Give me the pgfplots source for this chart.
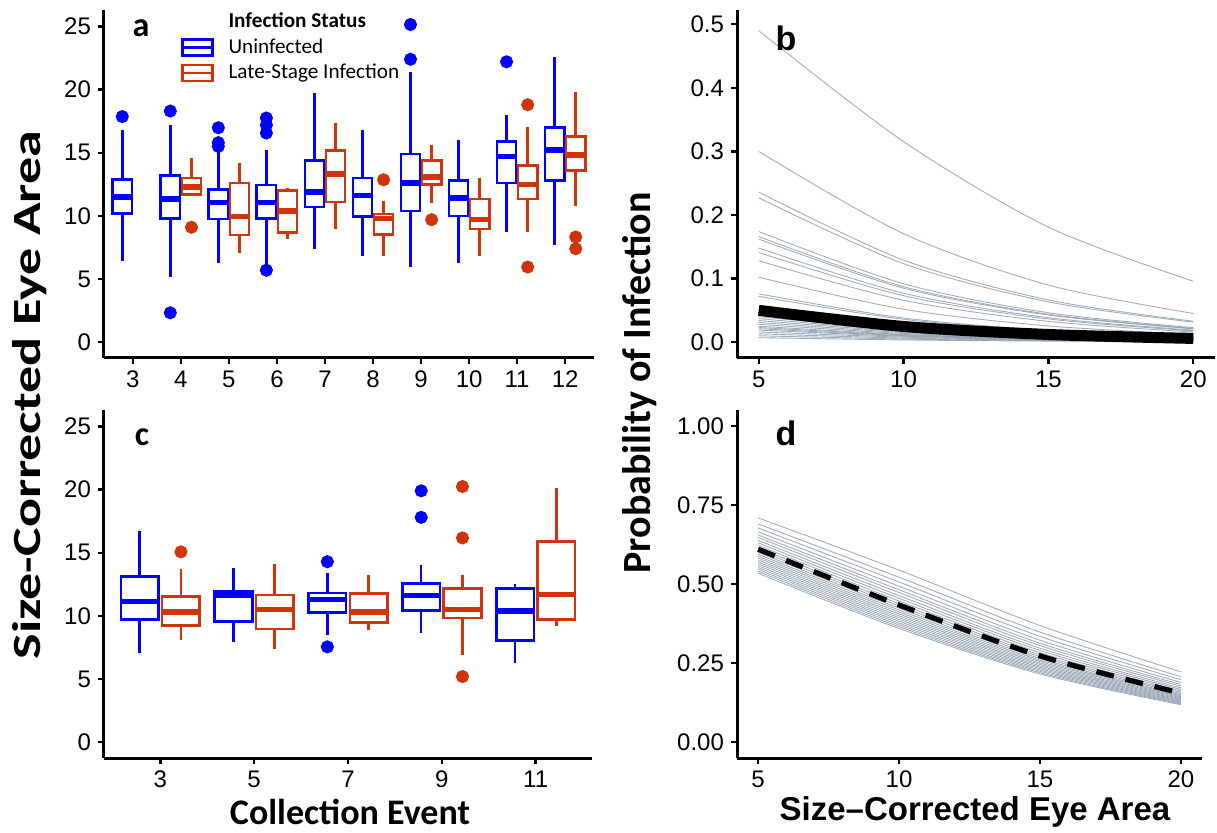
\documentclass[border=0pt]{standalone}
\usepackage{fontspec}
\setmainfont{Liberation Sans}
\newfontfamily\calfont{Carlito}
\usepackage{pgfplots}
\pgfplotsset{compat=1.18}
\usepgfplotslibrary{statistics}
\definecolor{ublue}{RGB}{0,0,255}
\definecolor{ured}{RGB}{210,52,10}
\definecolor{lgray}{RGB}{138,153,170}
\pgfplotsset{
  panel/.style={
    scale only axis, anchor=south west,
    axis lines=left,
    axis line style={line width=1.5pt,-},
    x axis line style={-}, y axis line style={-},
    tick align=outside, major tick length=3pt,
    tick style={line width=1.2pt, black},
    ticklabel style={font=\fontsize{12}{14}\selectfont},
    /pgf/number format/assume math mode=true,
    height=174pt,
  },
  bxstyle/.style={line width=1.3pt, solid, mark=*, mark size=2.6pt, mark options={draw=none, fill=#1}, draw=#1},
  gl/.style={smooth, lgray, line width=0.45pt, opacity=0.8, forget plot},
}
\newcommand{\bx}[8]{\addplot[bxstyle=#1, boxplot prepared={draw direction=y, draw position=#2, lower whisker=#3, lower quartile=#4, median=#5, upper quartile=#6, upper whisker=#7, box extend=0.4, whisker extend=0, every median/.style={line width=2.8pt}}] coordinates {#8};}
\begin{document}
\begin{tikzpicture}
% ---------------- panel a
\begin{axis}[panel, at={(52pt,237pt)}, width=245pt,
  xmin=2.4, xmax=12.6, ymin=-1.25, ymax=26.3,
  xtick={3,...,12}, ytick={0,5,...,25},
  legend style={at={(0.144,1.017)}, anchor=north west, draw=none, fill=none,
    font=\calfont\fontsize{10.6}{12}\selectfont, row sep=0pt, column sep=5.5pt, cells={anchor=west}},
  ]
\addlegendimage{empty legend}\addlegendentry{\bfseries Infection Status}
\addlegendimage{legend image code/.code={\draw[ublue, line width=1.3pt, fill=white] (0pt,-4pt) rectangle (15pt,4pt); \draw[ublue, line width=1.3pt] (0pt,0pt)--(15pt,0pt);}}\addlegendentry{Uninfected}
\addlegendimage{legend image code/.code={\draw[ured, line width=1.3pt, fill=white] (0pt,-4pt) rectangle (15pt,4pt); \draw[ured, line width=1.3pt] (0pt,0pt)--(15pt,0pt);}}\addlegendentry{Late-Stage Infection}
\bx{ublue}{2.78}{6.45}{10.2}{11.5}{12.86}{16.8}{(0,17.86)}
\bx{ublue}{3.78}{5.15}{9.8}{11.35}{13.2}{17.2}{(0,18.3) (0,2.33)}
\bx{ured}{4.22}{11.6}{11.7}{12.3}{13.0}{14.6}{(0,9.1)}
\bx{ublue}{4.78}{6.3}{9.76}{11.05}{12.1}{15.2}{(0,16.98) (0,15.8) (0,15.5)}
\bx{ured}{5.22}{7.1}{8.5}{9.95}{12.6}{14.2}{}
\bx{ublue}{5.78}{6.1}{9.8}{11.05}{12.46}{15.2}{(0,17.75) (0,17.2) (0,16.56) (0,5.7)}
\bx{ured}{6.22}{8.2}{8.7}{10.4}{12.0}{12.2}{}
\bx{ublue}{6.78}{7.4}{10.7}{11.9}{14.4}{19.7}{}
\bx{ured}{7.22}{9.0}{11.1}{13.3}{15.2}{17.35}{}
\bx{ublue}{7.78}{6.85}{9.95}{11.6}{13.0}{16.8}{}
\bx{ured}{8.22}{6.85}{8.55}{9.8}{10.16}{11.2}{(0,12.86)}
\bx{ublue}{8.78}{5.95}{10.4}{12.6}{14.9}{21.4}{(0,25.15) (0,22.4)}
\bx{ured}{9.22}{11.0}{12.5}{13.1}{14.4}{15.6}{(0,9.7)}
\bx{ublue}{9.78}{6.3}{10.0}{11.4}{12.8}{16.0}{}
\bx{ured}{10.22}{6.8}{8.97}{9.7}{11.35}{13.0}{}
\bx{ublue}{10.78}{8.7}{12.6}{14.7}{15.9}{18.0}{(0,22.2)}
\bx{ured}{11.22}{8.7}{11.35}{12.5}{14.0}{17.0}{(0,18.8) (0,5.95)}
\bx{ublue}{11.78}{7.7}{12.8}{15.2}{17.0}{22.6}{}
\bx{ured}{12.22}{10.8}{13.6}{14.8}{16.3}{19.8}{(0,8.33) (0,7.4)}
\end{axis}
% ---------------- panel c
\begin{axis}[panel, at={(52pt,37pt)}, width=244pt,
  xmin=0.4, xmax=5.6, ymin=-1.25, ymax=26.3,
  xtick={1,...,5}, xticklabels={3,5,7,9,11}, ytick={0,5,...,25}]
\bx{ublue}{0.78}{7.03}{9.72}{11.15}{13.1}{16.73}{}
\bx{ured}{1.22}{8.13}{9.22}{10.29}{11.52}{13.7}{(0,15.07)}
\bx{ublue}{1.78}{7.94}{9.58}{11.65}{11.94}{13.77}{}
\bx{ured}{2.22}{7.39}{8.96}{10.5}{11.65}{14.07}{}
\bx{ublue}{2.78}{8.52}{10.27}{11.31}{11.8}{13.43}{(0,14.29) (0,7.55)}
\bx{ured}{3.22}{8.86}{9.5}{10.29}{11.78}{13.2}{}
\bx{ublue}{3.78}{8.67}{10.42}{11.6}{12.58}{13.99}{(0,19.9) (0,17.8)}
\bx{ured}{4.22}{6.93}{9.82}{10.5}{12.17}{13.24}{(0,20.24) (0,16.17) (0,5.2)}
\bx{ublue}{4.78}{6.25}{8.07}{10.37}{12.17}{12.5}{}
\bx{ured}{5.22}{9.19}{9.72}{11.68}{15.9}{20.14}{}
\end{axis}
% ---------------- panel b
\begin{axis}[panel, at={(368.5pt,237pt)}, width=239pt,
  xmin=4.25, xmax=20.75, ymin=-0.025, ymax=0.5225,
  xtick={5,10,15,20}, ytick={0,0.1,0.2,0.3,0.4,0.5},
  yticklabels={0.0,0.1,0.2,0.3,0.4,0.5}]
\addplot[gl] coordinates {(5,0.49) (10,0.3154) (15,0.1809) (20,0.0958)};
\addplot[gl] coordinates {(5,0.30) (10,0.1705) (15,0.0897) (20,0.0451)};
\addplot[gl] coordinates {(5,0.236) (10,0.1290) (15,0.0663) (20,0.0329)};
\addplot[gl] coordinates {(5,0.227) (10,0.1234) (15,0.0633) (20,0.0314)};
\addplot[gl] coordinates {(5,0.174) (10,0.0918) (15,0.0462) (20,0.0227)};
\addplot[gl] coordinates {(5,0.166) (10,0.0871) (15,0.0438) (20,0.0215)};
\addplot[gl] coordinates {(5,0.162) (10,0.0848) (15,0.0426) (20,0.0209)};
\addplot[gl] coordinates {(5,0.148) (10,0.0769) (15,0.0384) (20,0.0188)};
\addplot[gl] coordinates {(5,0.141) (10,0.0730) (15,0.0364) (20,0.0178)};
\addplot[gl] coordinates {(5,0.128) (10,0.0658) (15,0.0326) (20,0.0159)};
\addplot[gl] coordinates {(5,0.102) (10,0.0517) (15,0.0254) (20,0.0124)};
\addplot[gl] coordinates {(5,0.076) (10,0.0379) (15,0.0186) (20,0.0090)};
\addplot[gl] coordinates {(5,0.072) (10,0.0359) (15,0.0175) (20,0.0085)};
\addplot[gl] coordinates {(5,0.045) (10,0.0221) (15,0.0107) (20,0.0052)};
\addplot[gl] coordinates {(5,0.040) (10,0.0196) (15,0.0095) (20,0.0046)};
\addplot[gl] coordinates {(5,0.037) (10,0.0181) (15,0.0088) (20,0.0042)};
\addplot[gl] coordinates {(5,0.034) (10,0.0166) (15,0.0081) (20,0.0039)};
\addplot[gl] coordinates {(5,0.031) (10,0.0151) (15,0.0074) (20,0.0035)};
\addplot[gl] coordinates {(5,0.028) (10,0.0136) (15,0.0066) (20,0.0032)};
\addplot[gl] coordinates {(5,0.025) (10,0.0121) (15,0.0059) (20,0.0028)};
\addplot[gl] coordinates {(5,0.023) (10,0.0112) (15,0.0054) (20,0.0026)};
\addplot[gl] coordinates {(5,0.021) (10,0.0102) (15,0.0049) (20,0.0024)};
\addplot[gl] coordinates {(5,0.019) (10,0.0092) (15,0.0045) (20,0.0021)};
\addplot[gl] coordinates {(5,0.016) (10,0.0078) (15,0.0037) (20,0.0018)};
\addplot[gl] coordinates {(5,0.013) (10,0.0063) (15,0.0030) (20,0.0015)};
\addplot[gl] coordinates {(5,0.010) (10,0.0048) (15,0.0023) (20,0.0011)};
\addplot[gl] coordinates {(5,0.007) (10,0.0034) (15,0.0016) (20,0.0008)};
\addplot[smooth, black, line width=5.5pt] coordinates {(5,0.050) (10,0.0246) (15,0.0120) (20,0.0058)};
\end{axis}
% ---------------- panel d
\begin{axis}[panel, at={(368.5pt,37pt)}, width=232.5pt,
  xmin=4.25, xmax=20.75, ymin=-0.05, ymax=1.05,
  xtick={5,10,15,20}, ytick={0,0.25,0.5,0.75,1},
  yticklabels={0.00,0.25,0.50,0.75,1.00}]
\addplot[gl] coordinates {(5,0.709) (10,0.5440) (15,0.3688) (20,0.2224)};
\addplot[gl] coordinates {(5,0.690) (10,0.5215) (15,0.3480) (20,0.2072)};
\addplot[gl] coordinates {(5,0.677) (10,0.5065) (15,0.3345) (20,0.1975)};
\addplot[gl] coordinates {(5,0.665) (10,0.4929) (15,0.3225) (20,0.1890)};
\addplot[gl] coordinates {(5,0.655) (10,0.4818) (15,0.3128) (20,0.1823)};
\addplot[gl] coordinates {(5,0.647) (10,0.4730) (15,0.3053) (20,0.1771)};
\addplot[gl] coordinates {(5,0.638) (10,0.4632) (15,0.2970) (20,0.1714)};
\addplot[gl] coordinates {(5,0.630) (10,0.4547) (15,0.2899) (20,0.1666)};
\addplot[gl] coordinates {(5,0.622) (10,0.4463) (15,0.2830) (20,0.1619)};
\addplot[gl] coordinates {(5,0.614) (10,0.4379) (15,0.2762) (20,0.1573)};
\addplot[gl] coordinates {(5,0.607) (10,0.4306) (15,0.2703) (20,0.1535)};
\addplot[gl] coordinates {(5,0.600) (10,0.4235) (15,0.2646) (20,0.1497)};
\addplot[gl] coordinates {(5,0.594) (10,0.4174) (15,0.2597) (20,0.1466)};
\addplot[gl] coordinates {(5,0.588) (10,0.4114) (15,0.2550) (20,0.1435)};
\addplot[gl] coordinates {(5,0.582) (10,0.4054) (15,0.2503) (20,0.1405)};
\addplot[gl] coordinates {(5,0.576) (10,0.3995) (15,0.2457) (20,0.1376)};
\addplot[gl] coordinates {(5,0.570) (10,0.3937) (15,0.2412) (20,0.1347)};
\addplot[gl] coordinates {(5,0.564) (10,0.3878) (15,0.2368) (20,0.1319)};
\addplot[gl] coordinates {(5,0.558) (10,0.3820) (15,0.2324) (20,0.1291)};
\addplot[gl] coordinates {(5,0.552) (10,0.3763) (15,0.2281) (20,0.1264)};
\addplot[gl] coordinates {(5,0.546) (10,0.3706) (15,0.2238) (20,0.1237)};
\addplot[gl] coordinates {(5,0.540) (10,0.3650) (15,0.2197) (20,0.1211)};
\addplot[gl] coordinates {(5,0.534) (10,0.3595) (15,0.2156) (20,0.1186)};
\addplot[smooth, black, line width=2.6pt, dash pattern=on 9pt off 6pt] coordinates {(5,0.610) (10,0.4337) (15,0.2728) (20,0.1551)};
\end{axis}
% ---------------- labels
\node[rotate=90, font=\calfont\bfseries\fontsize{20}{24}\selectfont] at (15pt,218.5pt) {\scalebox{1.35}[1]{Size-Corrected Eye Area}};
\node[rotate=90, font=\calfont\bfseries\fontsize{20}{24}\selectfont] at (320pt,224.5pt) {Probability of Infection};
\node[font=\calfont\bfseries\fontsize{18}{21}\selectfont] at (175pt,10pt) {Collection Event};
\node[font=\bfseries\fontsize{16.5}{19}\selectfont] at (487.5pt,10pt) {Size--Corrected Eye Area};
\node[font=\calfont\bfseries\fontsize{17}{20}\selectfont] at (70.5pt,402pt) {a};
\node[font=\calfont\bfseries\fontsize{17}{20}\selectfont] at (71pt,197.5pt) {c};
\node[font=\bfseries\fontsize{17}{20}\selectfont] at (393pt,397pt) {b};
\node[font=\bfseries\fontsize{17}{20}\selectfont] at (393pt,199.5pt) {d};
\pgfresetboundingbox
\path[use as bounding box] (0pt,0pt) rectangle (608.5pt,416pt);
\end{tikzpicture}
\end{document}
